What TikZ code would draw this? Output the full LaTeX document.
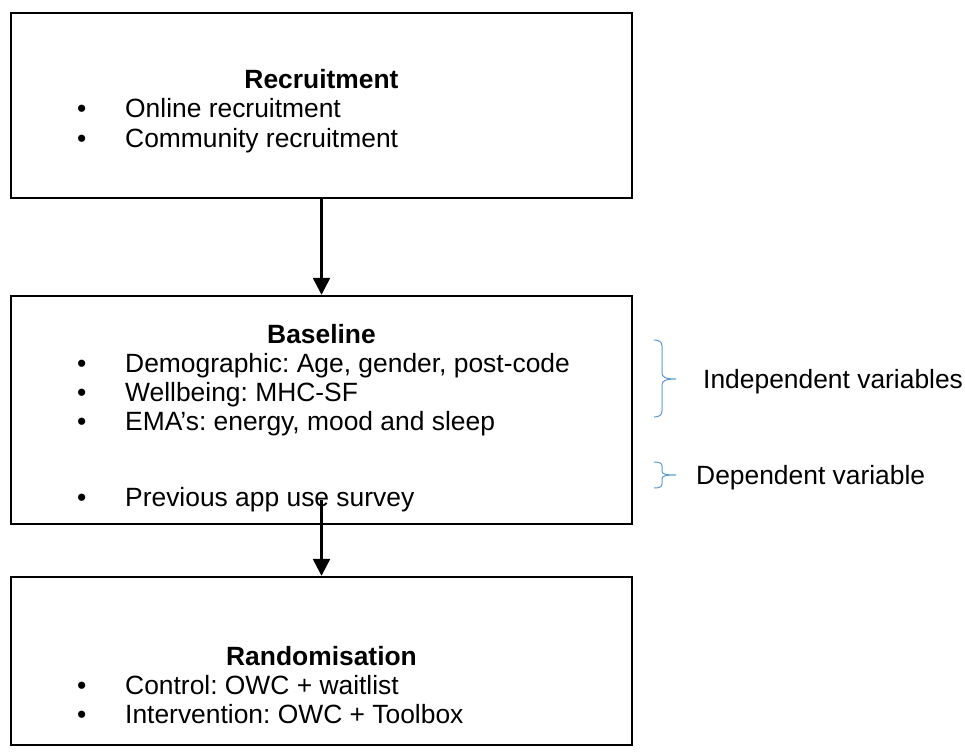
\documentclass[tikz,border=0pt]{standalone}
\usepackage{fontspec}
\setmainfont{Liberation Sans}
\frenchspacing
\usetikzlibrary{arrows.meta}
\definecolor{braceblue}{HTML}{5B9BD5}
\begin{document}
\begin{tikzpicture}[x=1pt,y=-1pt,
  box/.style={draw=black,line width=2.4pt,minimum width=621pt,inner sep=0pt},
  txt/.style={anchor=base west,inner sep=0pt,font=\fontsize{26.4}{30}\selectfont},
  ttl/.style={anchor=base,inner sep=0pt,font=\fontsize{26.4}{30}\selectfont\bfseries},
  arr/.style={line width=2.5pt,-{Triangle[width=17pt,length=17pt]}},
  brc/.style={draw=braceblue,line width=1pt}]
\useasboundingbox (0,0) rectangle (965,755);
\node[box,minimum height=185pt] (rec) at (321.5,105.5) {};
\node[box,minimum height=228pt] (bas) at (321.5,410) {};
\node[box,minimum height=168pt] (ran) at (321.5,661) {};
% Recruitment
\node[ttl] (rt) at (321.5,88) {Recruitment};
\node[txt] (rb1) at (77,117) {•};
\node[txt] (r1) at (125,117) {Online recruitment};
\node[txt] (rb2) at (77,147) {•};
\node[txt] (r2) at (125,147) {Community recruitment};
% Baseline
\node[ttl] (bt) at (321.5,343) {Baseline};
\node[txt] (bb1) at (77,372) {•};
\node[txt] (b1) at (125,372) {Demographic: Age, gender, post-code};
\node[txt] (bb2) at (77,401) {•};
\node[txt] (b2) at (125,401) {Wellbeing: MHC-SF};
\node[txt] (bb3) at (77,430) {•};
\node[txt] (b3) at (125,430) {EMA’s: energy, mood and sleep};
\node[txt] (bb4) at (77,506) {•};
\node[txt] (b4) at (125,506) {Previous app use survey};
% Randomisation
\node[ttl] (nt) at (321.5,665) {Randomisation};
\node[txt] (nb1) at (77,694) {•};
\node[txt] (n1) at (125,694) {Control: OWC + waitlist};
\node[txt] (nb2) at (77,723) {•};
\node[txt] (n2) at (125,723) {Intervention: OWC + Toolbox};
% arrows
\draw[arr] (rec.south) -- (bas.north);
\coordinate (s2) at (321.5,500);
\draw[arr] (s2) -- (ran.north);
% braces
\coordinate (ia) at (654,340);
\coordinate (ib) at (654,417);
\coordinate (it) at (676,379);
\draw[brc] (ia) .. controls (659,340) and (662,342) .. (662,346) -- (662,373)
  .. controls (662,377) and (665,379) .. (it)
  .. controls (665,379) and (662,381) .. (662,385) -- (662,411)
  .. controls (662,415) and (659,417) .. (ib);
\coordinate (da) at (654,462);
\coordinate (db) at (654,488);
\coordinate (dt) at (676,475);
\draw[brc] (da) .. controls (659,462) and (662,463) .. (662,466) -- (662,471)
  .. controls (662,474) and (665,475) .. (dt)
  .. controls (665,475) and (662,476) .. (662,479) -- (662,484)
  .. controls (662,487) and (659,488) .. (db);
\node[txt] (iv) at (703,388) {Independent variables};
\node[txt] (dv) at (696,484) {Dependent variable};
\end{tikzpicture}
\end{document}
